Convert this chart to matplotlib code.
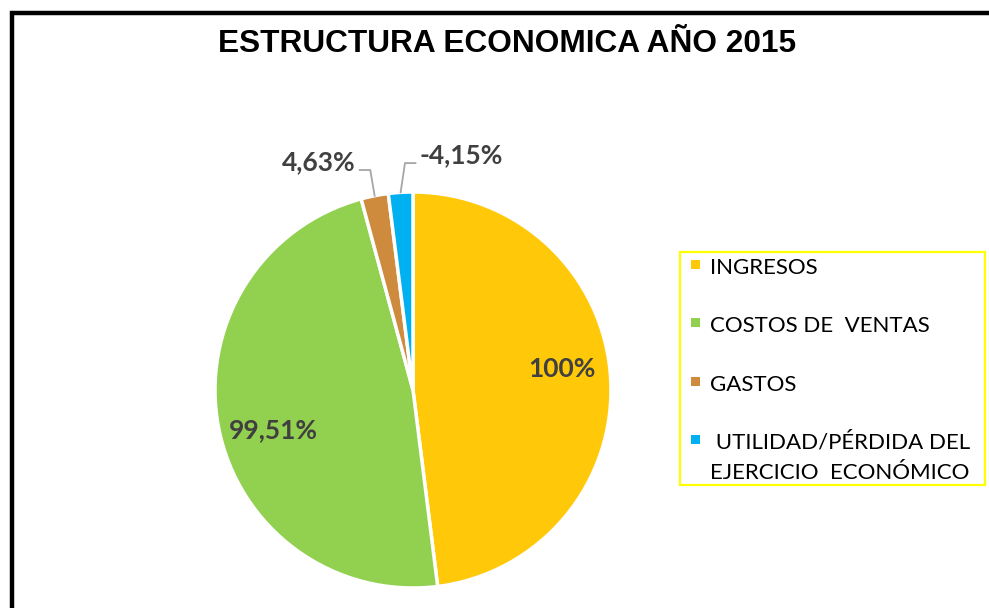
import matplotlib.pyplot as plt
from matplotlib.patches import Rectangle
import numpy as np

categories = ['INGRESOS', 'COSTOS DE  VENTAS', 'GASTOS',
              ' UTILIDAD/PÉRDIDA DEL\nEJERCICIO  ECONÓMICO']
values = [100, 99.51, 4.63, 4.15]
pct_labels = ['100%', '99,51%', '4,63%', '-4,15%']
colors = ['#FFC90A', '#92D050', '#CE8B3E', '#00B0F0']

W, H = 989, 608
fig = plt.figure(figsize=(W / 100, H / 100), dpi=100)
fig.patch.set_facecolor('white')


def fx(px):
    return px / W


def fy(py):
    return 1 - py / H


# outer frame (only top and left visible in the reference)
fig.add_artist(Rectangle((fx(12), -0.1), 1.2, 1.1 - 13 / H,
                         transform=fig.transFigure, fill=False,
                         edgecolor='black', linewidth=3.2))

fig.text(fx(507), fy(44), 'ESTRUCTURA ECONOMICA AÑO 2015',
         ha='center', va='center', fontsize=22.8, fontweight='bold',
         family='Liberation Sans')

cx, cy, r = 413, 390, 198
ax = fig.add_axes([fx(cx - r), (H - cy - r) / H, 2 * r / W, 2 * r / H])
wedges, _ = ax.pie(values, colors=colors, startangle=90, counterclock=False,
                   wedgeprops=dict(edgecolor='white', linewidth=2.5))
ax.set_xlim(-1, 1)
ax.set_ylim(-1, 1)
ax.axis('off')

lab_kw = dict(fontsize=19, fontweight='bold', color='#404040', family='Lato')
for i, w in enumerate(wedges):
    ang = np.deg2rad((w.theta1 + w.theta2) / 2)
    x, y = np.cos(ang), np.sin(ang)
    if i < 2:
        dy = 0.06 if i == 0 else -0.06
        rx = 0.755 if i == 0 else 0.72
        ax.text(rx * x, 0.74 * y + dy, pct_labels[i],
                ha='center', va='center', **lab_kw)
    else:
        side = -1 if i == 2 else 1
        ly = 1.111 if i == 2 else 1.146
        p1 = (x + side * 0.022, ly)
        p2 = (p1[0] + side * 0.053, ly)
        ax.plot([x, p1[0], p2[0]], [y, p1[1], p2[1]],
                color='#A6A6A6', lw=1.3, clip_on=False)
        ax.text(p2[0] + side * 0.02, ly + 0.038, pct_labels[i],
                ha='right' if side < 0 else 'left', va='center',
                clip_on=False, **lab_kw)

# legend box
fig.add_artist(Rectangle((fx(680), fy(485)), fx(985) - fx(680),
                         fy(252) - fy(485), transform=fig.transFigure,
                         fill=False, edgecolor='#FFFF00', linewidth=1.6))
for i, (lab, c) in enumerate(zip(categories, colors)):
    base = 274 + 58.3 * i
    fig.add_artist(Rectangle((fx(691), fy(base - 5)), 9 / W, 9 / H,
                             transform=fig.transFigure, facecolor=c,
                             edgecolor='none'))
    for j, line in enumerate(lab.split('\n')):
        fig.text(fx(710), fy(base + 30 * j), line, ha='left',
                 va='baseline', fontsize=16, family='Lato', color='black')

fig.savefig('out.png', dpi=100, facecolor='white')
